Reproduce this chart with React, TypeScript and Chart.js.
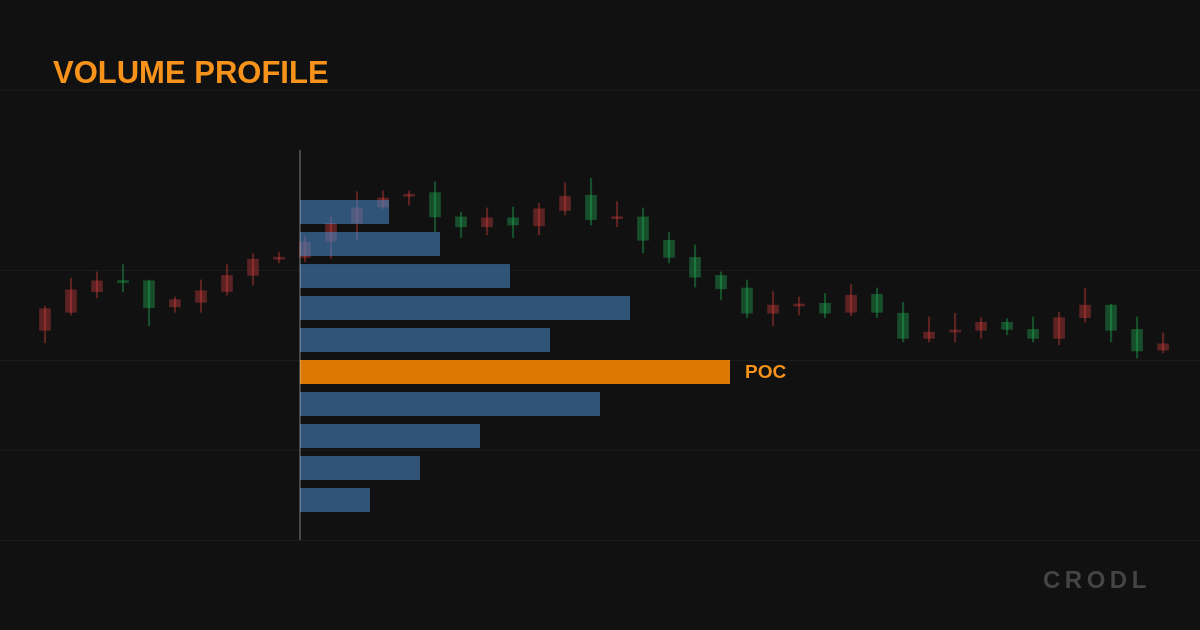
import React, { useEffect, useRef } from "react";
import { Chart, registerables } from "chart.js";

Chart.register(...registerables);

// ---- Candlestick data (price units) ----
const opens = [
  135.7, 137.8, 138.8, 138.6, 135.8, 136.7, 137.7, 139.4, 141.2, 141.4,
  143.1, 145.2, 146.9, 148.0, 148.4, 145.9, 144.8, 145.8, 145.0, 146.8,
  148.2, 145.6, 145.9, 143.3, 141.4, 139.2, 137.9, 135.2, 136.1, 136.2,
  135.2, 137.2, 135.3, 132.4, 133.1, 133.3, 134.2, 133.4, 132.4, 134.7,
  136.1, 133.3, 131.0, 131.8,
];
const closes = [
  133.3, 135.3, 137.6, 138.8, 138.8, 135.9, 136.4, 137.6, 139.4, 141.2,
  141.4, 143.2, 145.2, 147.0, 148.2, 148.6, 145.9, 144.8, 145.8, 144.9,
  146.6, 148.3, 145.7, 145.9, 143.3, 141.4, 139.4, 138.0, 135.2, 136.0,
  136.3, 135.3, 137.3, 135.2, 132.4, 133.1, 133.3, 134.2, 133.4, 132.4,
  134.7, 136.1, 133.4, 131.1,
];
const highs = [
  136.0, 139.1, 139.8, 140.6, 138.9, 137.0, 138.9, 140.6, 141.8, 142.0,
  143.8, 145.9, 148.7, 148.8, 148.8, 149.8, 146.4, 146.9, 147.0, 147.4,
  149.7, 150.2, 147.6, 146.9, 144.2, 142.8, 139.8, 138.9, 137.6, 137.0,
  137.4, 138.4, 138.0, 136.4, 134.8, 135.2, 134.7, 134.6, 134.8, 135.3,
  138.0, 136.2, 134.8, 133.0,
];
const lows = [
  131.9, 135.0, 136.9, 137.6, 133.8, 135.3, 135.3, 137.2, 138.3, 140.8,
  140.9, 141.3, 143.3, 146.8, 147.2, 144.2, 143.6, 143.9, 143.6, 143.9,
  146.1, 145.0, 144.8, 141.9, 140.8, 138.1, 136.7, 134.7, 133.8, 135.0,
  134.7, 134.9, 134.7, 132.0, 132.0, 132.0, 132.4, 132.8, 132.0, 131.7,
  134.2, 132.0, 130.2, 130.8,
];

// Horizontal price grid levels
const gridLevels = [160, 140, 130, 120, 110];

// ---- Volume profile data ----
const profileLevels = [
  "146.5", "143.0", "139.5", "136.0", "132.5",
  "129.0", "125.5", "122.0", "118.5", "115.0",
];
const profileVolumes = [89, 140, 210, 330, 250, 430, 300, 180, 120, 70];

const titleText = "VOLUME PROFILE";
const pocText = "POC";
const brandText = "CRODL";

// ---- styles ----
const BG = "#111111";
const GRID = "#1b1b1b";
const UP = "rgba(34,197,94,0.34)";
const DOWN = "rgba(239,68,68,0.34)";
const BAR = "rgba(70,130,190,0.60)";
const POC_BAR = "rgba(255,138,0,0.86)";
const ORANGE = "#f7931a";

export default function App() {
  const bgRef = useRef<HTMLCanvasElement | null>(null);
  const fgRef = useRef<HTMLCanvasElement | null>(null);

  useEffect(() => {
    if (!bgRef.current || !fgRef.current) return;

    const candleColors = opens.map((o, i) => (closes[i] >= o ? UP : DOWN));

    const bgChart = new Chart(bgRef.current, {
      type: "bar",
      data: {
        datasets: [
          {
            label: "wick",
            data: highs.map((h, i) => ({ x: i, y: [lows[i], h] })) as any,
            backgroundColor: candleColors,
            barThickness: 1.5,
            grouped: false,
          } as any,
          {
            label: "body",
            data: opens.map((o, i) => ({ x: i, y: [o, closes[i]] })) as any,
            backgroundColor: candleColors,
            barThickness: 11,
            grouped: false,
            minBarLength: 2,
          } as any,
        ],
      },
      options: {
        responsive: false,
        animation: false,
        layout: { padding: 0 },
        plugins: { legend: { display: false }, tooltip: { enabled: false } },
        scales: {
          x: { type: "linear", min: -1.73, max: 44.42, display: false, offset: false },
          y: {
            type: "linear",
            min: 100,
            max: 170,
            display: true,
            offset: false,
            ticks: { display: false },
            border: { display: false },
            grid: { color: GRID, drawTicks: false, lineWidth: 1 },
            afterBuildTicks: (scale: any) => {
              scale.ticks = gridLevels.map((v) => ({ value: v }));
            },
          },
        },
      },
    });

    const pocIndex = profileVolumes.indexOf(Math.max(...profileVolumes));

    const overlayPlugin = {
      id: "profileDecor",
      afterDatasetsDraw(chart: any) {
        const ctx = chart.ctx;
        const xs = chart.scales.x;
        const area = chart.chartArea;
        const x0 = xs.getPixelForValue(0);
        ctx.save();
        ctx.strokeStyle = "rgba(255,255,255,0.32)";
        ctx.lineWidth = 1.5;
        ctx.beginPath();
        ctx.moveTo(x0, area.top - 46);
        ctx.lineTo(x0, area.bottom + 24);
        ctx.stroke();

        const el = chart.getDatasetMeta(0).data[pocIndex];
        if (el) {
          const fs = 19;
          ctx.font = `bold ${fs}px "Liberation Sans", Arial, sans-serif`;
          ctx.fillStyle = ORANGE;
          ctx.textAlign = "left";
          ctx.textBaseline = "alphabetic";
          ctx.fillText(pocText, el.x + 15, el.y + fs * 0.3);
        }
        ctx.restore();
      },
    };

    const fgChart = new Chart(fgRef.current, {
      type: "bar",
      data: {
        labels: profileLevels,
        datasets: [
          {
            label: "Volume",
            data: profileVolumes,
            backgroundColor: profileVolumes.map((_, i) => (i === pocIndex ? POC_BAR : BAR)),
            barPercentage: 0.75,
            categoryPercentage: 1,
          },
        ],
      },
      options: {
        indexAxis: "y",
        responsive: false,
        animation: false,
        layout: { padding: { left: 300, top: 196, bottom: 114, right: 0 } },
        plugins: { legend: { display: false }, tooltip: { enabled: false } },
        scales: {
          x: { type: "linear", min: 0, max: 900, display: false },
          y: { type: "category", display: false },
        },
      },
      plugins: [overlayPlugin],
    });

    return () => {
      bgChart.destroy();
      fgChart.destroy();
    };
  }, []);

  const font = '"Liberation Sans", Arial, Helvetica, sans-serif';

  return (
    <div
      style={{
        position: "fixed",
        left: 0,
        top: 0,
        width: 1200,
        height: 630,
        background: BG,
        overflow: "hidden",
      }}
    >
      <canvas
        ref={bgRef}
        width={1200}
        height={630}
        style={{ position: "absolute", left: 0, top: 0, width: 1200, height: 630 }}
      />
      <canvas
        ref={fgRef}
        width={1200}
        height={630}
        style={{ position: "absolute", left: 0, top: 0, width: 1200, height: 630 }}
      />
      <div
        style={{
          position: "absolute",
          left: 53,
          top: 57,
          fontFamily: font,
          fontWeight: 700,
          fontSize: 31,
          lineHeight: "31px",
          color: ORANGE,
          whiteSpace: "nowrap",
        }}
      >
        {titleText}
      </div>
      <div
        style={{
          position: "absolute",
          left: 1043,
          top: 568,
          fontFamily: font,
          fontWeight: 700,
          fontSize: 24,
          lineHeight: "24px",
          letterSpacing: 4.5,
          color: "#444444",
          whiteSpace: "nowrap",
        }}
      >
        {brandText}
      </div>
    </div>
  );
}
